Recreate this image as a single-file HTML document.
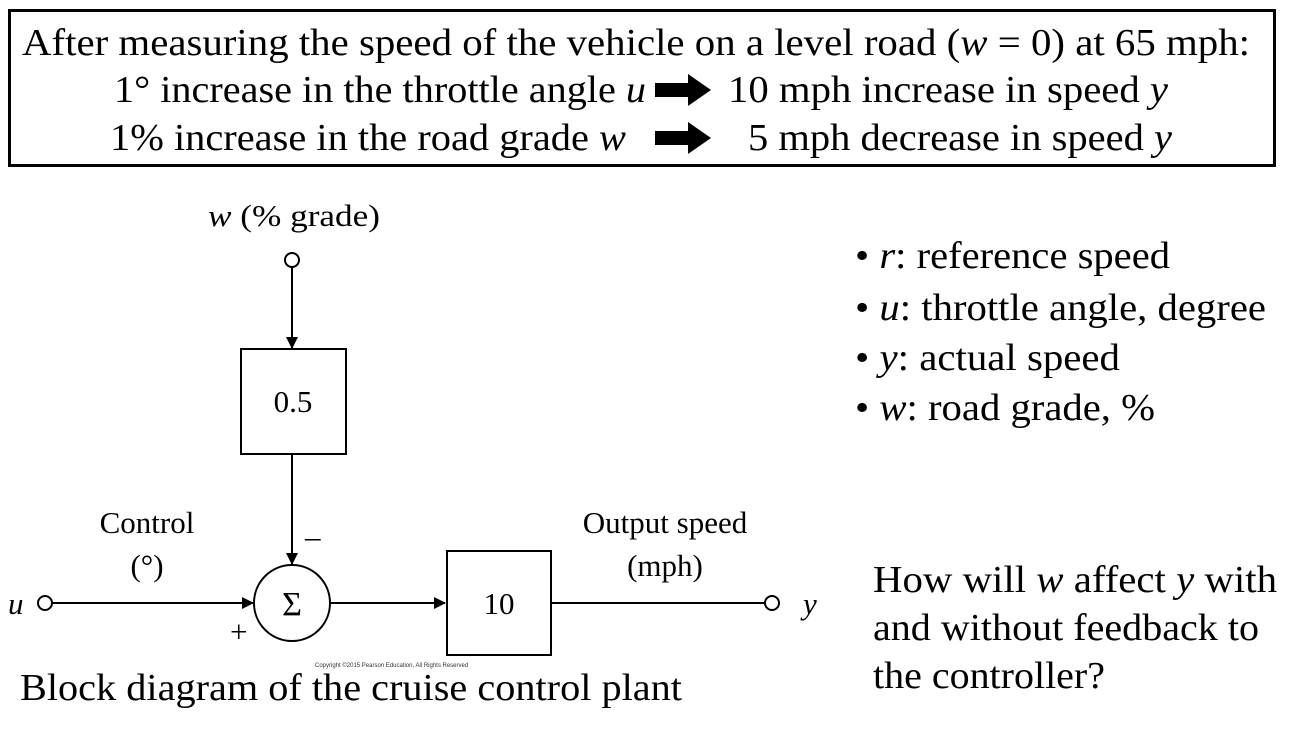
<!DOCTYPE html>
<html><head><meta charset="utf-8"><style>
html,body{margin:0;padding:0;background:#fff;}
svg{display:block;font-family:"Liberation Serif",serif;}
</style></head><body>
<svg width="1296" height="735" viewBox="0 0 1296 735" xmlns="http://www.w3.org/2000/svg">
<defs><marker id="a" markerWidth="12" markerHeight="12" refX="11" refY="6" orient="auto" markerUnits="userSpaceOnUse"><path d="M0,0 L12,6 L0,12 z" fill="#000"/></marker></defs>
<rect x="9.5" y="10.5" width="1265" height="155" fill="none" stroke="#000" stroke-width="3"/>
<g font-size="38" fill="#000">
<text x="22" y="55" textLength="1228" lengthAdjust="spacingAndGlyphs">After measuring the speed of the vehicle on a level road (<tspan font-style="italic">w</tspan> = 0) at 65 mph:</text>
<text x="114" y="102" textLength="532" lengthAdjust="spacingAndGlyphs">1° increase in the throttle angle <tspan font-style="italic">u</tspan></text>
<text x="728" y="102" textLength="440" lengthAdjust="spacingAndGlyphs">10 mph increase in speed <tspan font-style="italic">y</tspan></text>
<text x="110" y="150" textLength="516" lengthAdjust="spacingAndGlyphs">1% increase in the road grade <tspan font-style="italic">w</tspan></text>
<text x="748" y="150" textLength="424" lengthAdjust="spacingAndGlyphs">5 mph decrease in speed <tspan font-style="italic">y</tspan></text>
</g>
<path d="M655,83 h33 v-9 l23,16 l-23,16 v-9 h-33 z" fill="#000"/>
<path d="M655,131 h33 v-9 l23,16 l-23,16 v-9 h-33 z" fill="#000"/>

<g stroke="#000" stroke-width="2" fill="none">
<circle cx="292" cy="260" r="7" fill="#fff"/>
<line x1="292" y1="267" x2="292" y2="348" marker-end="url(#a)"/>
<rect x="241" y="349" width="105" height="105"/>
<line x1="292" y1="455" x2="292" y2="564" marker-end="url(#a)"/>
<circle cx="292" cy="603" r="38"/>
<circle cx="45" cy="603" r="7" fill="#fff"/>
<line x1="52" y1="603" x2="253" y2="603" marker-end="url(#a)"/>
<line x1="330" y1="603" x2="445" y2="603" marker-end="url(#a)"/>
<rect x="447" y="551" width="104" height="104"/>
<line x1="551" y1="603" x2="765" y2="603"/>
<circle cx="772" cy="603" r="7" fill="#fff"/>
</g>
<g font-size="31" fill="#000">
<text x="208" y="226" textLength="172" lengthAdjust="spacingAndGlyphs"><tspan font-style="italic">w</tspan> (% grade)</text>
<text x="293" y="412" text-anchor="middle">0.5</text>
<text x="499" y="614" text-anchor="middle">10</text>
<text x="292" y="615" text-anchor="middle" font-size="34">Σ</text>
<text x="147" y="533" text-anchor="middle">Control</text>
<text x="147" y="576" text-anchor="middle">(°)</text>
<text x="665" y="533" text-anchor="middle">Output speed</text>
<text x="665" y="576" text-anchor="middle">(mph)</text>
<text x="8" y="614" font-style="italic">u</text>
<text x="803" y="614" font-style="italic">y</text>
<text x="305" y="547">–</text>
<text x="230" y="642">+</text>
</g>
<text x="315" y="667" font-family="Liberation Sans,sans-serif" font-size="6" fill="#333">Copyright ©2015 Pearson Education, All Rights Reserved</text>
<text x="20" y="700" font-size="38" textLength="662" lengthAdjust="spacingAndGlyphs">Block diagram of the cruise control plant</text>

<g font-size="38" fill="#000">
<text x="855" y="268" textLength="315" lengthAdjust="spacingAndGlyphs">• <tspan font-style="italic">r</tspan>: reference speed</text>
<text x="855" y="320" textLength="411" lengthAdjust="spacingAndGlyphs">• <tspan font-style="italic">u</tspan>: throttle angle, degree</text>
<text x="855" y="370" textLength="265" lengthAdjust="spacingAndGlyphs">• <tspan font-style="italic">y</tspan>: actual speed</text>
<text x="855" y="420" textLength="300" lengthAdjust="spacingAndGlyphs">• <tspan font-style="italic">w</tspan>: road grade, %</text>
<text x="873" y="592" textLength="404" lengthAdjust="spacingAndGlyphs">How will <tspan font-style="italic">w</tspan> affect <tspan font-style="italic">y</tspan> with</text>
<text x="873" y="640" textLength="386" lengthAdjust="spacingAndGlyphs">and without feedback to</text>
<text x="873" y="688" textLength="232" lengthAdjust="spacingAndGlyphs">the controller?</text>
</g>
</svg>
</body></html>
